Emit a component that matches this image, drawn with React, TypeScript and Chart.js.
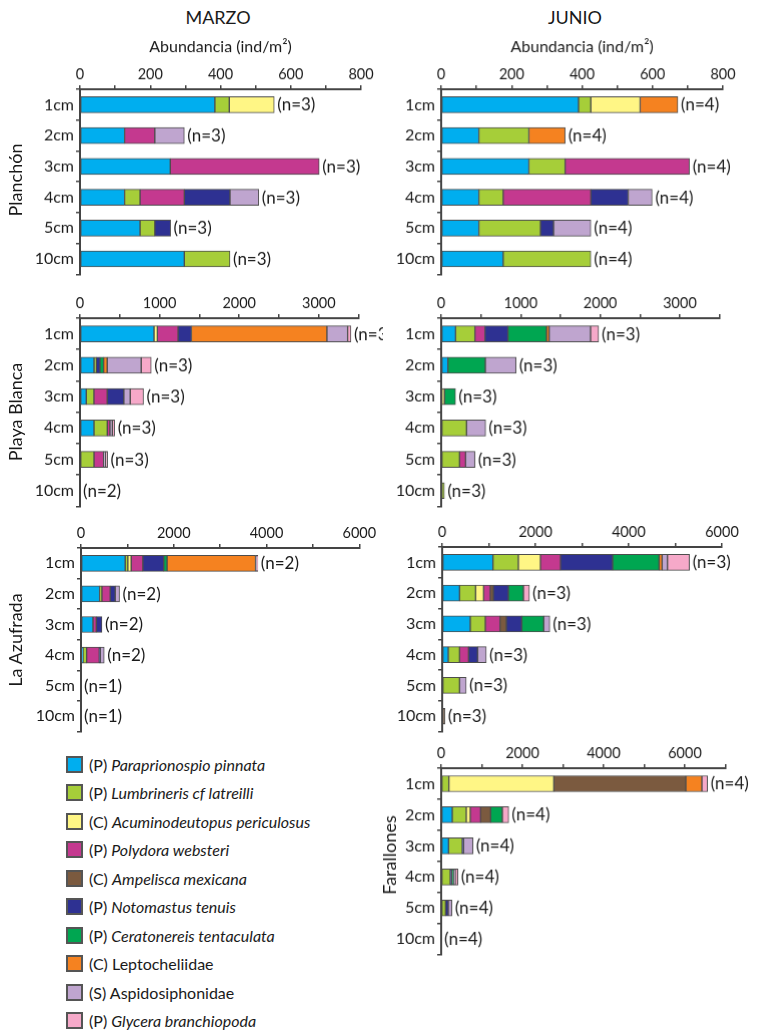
import React, { useEffect, useRef } from "react";
import { Chart, registerables } from "chart.js";

Chart.register(...registerables);

const FONT = "Lato, 'Open Sans', sans-serif";

// categories
const depths = ["1cm", "2cm", "3cm", "4cm", "5cm", "10cm"];

// species (legend order)
const speciesPrefix = ["(P)", "(P)", "(C)", "(P)", "(C)", "(P)", "(P)", "(C)", "(S)", "(P)"];
const speciesName = [
  "Paraprionospio pinnata",
  "Lumbrineris cf latreilli",
  "Acuminodeutopus periculosus",
  "Polydora websteri",
  "Ampelisca mexicana",
  "Notomastus tenuis",
  "Ceratonereis tentaculata",
  "Leptocheliidae",
  "Aspidosiphonidae",
  "Glycera branchiopoda",
];
const speciesItalic = [true, true, true, true, true, true, true, false, false, true];
const speciesColor = [
  "#00AEEF",
  "#A6CE39",
  "#FFF685",
  "#C4398F",
  "#7B5A3F",
  "#2E3192",
  "#00A651",
  "#F58220",
  "#BFA5CF",
  "#F6A9C9",
];

// values: rows = depths (1cm..10cm), columns = species (legend order)
const marzoPlanchon = [
  [384, 41, 128, 0, 0, 0, 0, 0, 0, 0],
  [127, 0, 0, 86, 0, 0, 0, 0, 84, 0],
  [257, 0, 0, 424, 0, 0, 0, 0, 0, 0],
  [127, 44, 0, 126, 0, 130, 0, 0, 82, 0],
  [171, 42, 0, 0, 0, 45, 0, 0, 0, 0],
  [297, 130, 0, 0, 0, 0, 0, 0, 0, 0],
];
const junioPlanchon = [
  [390, 35, 140, 0, 0, 0, 0, 107, 0, 0],
  [107, 142, 0, 0, 0, 0, 0, 103, 0, 0],
  [249, 103, 0, 353, 0, 0, 0, 0, 0, 0],
  [107, 69, 0, 249, 0, 106, 0, 0, 68, 0],
  [107, 175, 0, 0, 0, 37, 0, 0, 106, 0],
  [176, 249, 0, 0, 0, 0, 0, 0, 0, 0],
];
const marzoPlayaBlanca = [
  [930, 0, 42, 260, 0, 168, 0, 1702, 260, 42],
  [176, 29, 0, 0, 0, 46, 46, 45, 427, 126],
  [79, 96, 0, 167, 0, 209, 0, 0, 80, 167],
  [176, 167, 0, 33, 0, 0, 0, 0, 30, 29],
  [0, 176, 0, 121, 0, 0, 0, 0, 25, 25],
  [0, 0, 0, 0, 0, 0, 0, 0, 0, 0],
];
const junioPlayaBlanca = [
  [181, 243, 0, 126, 0, 290, 484, 33, 521, 101],
  [84, 0, 0, 0, 0, 0, 471, 0, 386, 0],
  [0, 0, 40, 0, 0, 0, 140, 0, 0, 0],
  [0, 319, 0, 0, 0, 0, 0, 0, 240, 0],
  [0, 231, 0, 76, 0, 0, 0, 0, 117, 0],
  [0, 40, 0, 0, 0, 0, 0, 0, 0, 0],
];
const marzoAzufrada = [
  [953, 57, 72, 251, 0, 451, 72, 1907, 30, 20],
  [401, 50, 0, 179, 0, 108, 0, 0, 93, 0],
  [258, 0, 0, 72, 0, 122, 0, 0, 0, 0],
  [43, 79, 0, 272, 0, 21, 0, 0, 86, 0],
  [0, 0, 0, 0, 0, 0, 0, 0, 0, 0],
  [0, 0, 0, 0, 0, 0, 0, 0, 0, 0],
];
const junioAzufrada = [
  [1090, 544, 474, 430, 0, 1118, 996, 65, 115, 473],
  [373, 344, 172, 143, 65, 323, 322, 0, 0, 129],
  [602, 323, 0, 316, 135, 329, 474, 0, 129, 0],
  [129, 244, 0, 193, 0, 194, 0, 0, 186, 0],
  [0, 373, 0, 0, 0, 0, 0, 0, 143, 0],
  [0, 0, 0, 0, 60, 0, 0, 0, 0, 0],
];
const junioFarallones = [
  [0, 189, 2585, 0, 3251, 0, 0, 395, 0, 140],
  [272, 345, 99, 255, 247, 0, 288, 0, 0, 157],
  [181, 338, 0, 0, 0, 32, 0, 0, 231, 0],
  [0, 222, 0, 0, 0, 33, 50, 0, 41, 66],
  [0, 107, 0, 0, 0, 66, 0, 0, 90, 0],
  [0, 0, 0, 0, 0, 0, 0, 0, 0, 0],
];

// sample sizes per depth
const nMarzoPlanchon = [3, 3, 3, 3, 3, 3];
const nJunioPlanchon = [4, 4, 4, 4, 4, 4];
const nMarzoPlayaBlanca = [3, 3, 3, 3, 3, 2];
const nJunioPlayaBlanca = [3, 3, 3, 3, 3, 3];
const nMarzoAzufrada = [2, 2, 2, 2, 1, 1];
const nJunioAzufrada = [3, 3, 3, 3, 3, 3];
const nJunioFarallones = [4, 4, 4, 4, 4, 4];

type PanelProps = {
  rows: number[][];
  ns: number[];
  max: number;
  step: number;
  labelEvery: number;
  plotLeft: number;
  plotTop: number;
  plotRight: number;
  plotBottom: number;
  canvasRight: number;
  axisTitle?: string;
};

const YW = 70;

function Panel(p: PanelProps) {
  const ref = useRef<HTMLCanvasElement | null>(null);
  const XH = p.axisTitle ? 60 : 30;
  const padBottom = 12;
  const left = p.plotLeft - YW;
  const top = p.plotTop - XH;
  const width = p.canvasRight - left;
  const height = XH + (p.plotBottom - p.plotTop) + padBottom;

  useEffect(() => {
    if (!ref.current) return;
    const totals = p.rows.map((r) => r.reduce((a, b) => a + b, 0));
    const datasets = speciesName.map((name, si) => ({
      label: name,
      data: p.rows.map((r) => (r[si] > 0 ? r[si] : null)),
      backgroundColor: speciesColor[si],
      borderColor: "#4d4d4d",
      borderWidth: 1,
      borderSkipped: false as const,
      barThickness: 16,
      stack: "s",
    }));
    const nPlugin = {
      id: "nlabels",
      afterDatasetsDraw(chart: any) {
        const { ctx, scales } = chart;
        const xs = scales.x;
        const ys = scales.y;
        ctx.save();
        ctx.font = `17px ${FONT}`;
        ctx.fillStyle = "#1a1a1a";
        ctx.textAlign = "left";
        ctx.textBaseline = "middle";
        totals.forEach((t: number, i: number) => {
          const x = xs.getPixelForValue(t) + 3;
          const y = ys.getPixelForValue(i);
          ctx.fillText(`(n=${p.ns[i]})`, x, y + 0.5);
        });
        ctx.restore();
      },
    };
    const chart = new Chart(ref.current, {
      type: "bar",
      data: { labels: depths, datasets },
      options: {
        indexAxis: "y",
        animation: false,
        responsive: true,
        maintainAspectRatio: false,
        layout: { padding: { left: 0, top: 0, right: p.canvasRight - p.plotRight, bottom: padBottom } },
        plugins: { legend: { display: false }, tooltip: { enabled: false } },
        scales: {
          x: {
            position: "top",
            stacked: true,
            min: 0,
            max: p.max,
            afterFit: (s: any) => {
              s.height = XH;
            },
            ticks: {
              stepSize: p.step,
              autoSkip: false,
              maxRotation: 0,
              padding: 2,
              color: "#1a1a1a",
              font: { family: FONT, size: 14.5 },
              callback: (v: any) => (Number(v) % p.labelEvery === 0 ? String(v) : ""),
            },
            grid: { drawOnChartArea: false, drawTicks: true, tickLength: 4, color: "#444", lineWidth: 1.5 },
            border: { display: true, color: "#444", width: 2 },
            title: {
              display: !!p.axisTitle,
              text: p.axisTitle || "",
              color: "#1a1a1a",
              font: { family: FONT, size: 16 },
              padding: { top: 8, bottom: 0 },
            },
          },
          y: {
            stacked: true,
            afterFit: (s: any) => {
              s.width = YW;
            },
            ticks: { color: "#1a1a1a", font: { family: FONT, size: 16 }, padding: 2 },
            grid: { drawOnChartArea: false, drawTicks: true, tickLength: 4, color: "#444", lineWidth: 1.5 },
            border: { display: true, color: "#444", width: 2 },
          },
        },
      },
      plugins: [nPlugin],
    });
    return () => chart.destroy();
  }, []);

  return (
    <div style={{ position: "absolute", left, top, width, height }}>
      <canvas ref={ref} />
    </div>
  );
}

function RotLabel({ text, cx, cy }: { text: string; cx: number; cy: number }) {
  return (
    <div
      style={{
        position: "absolute",
        left: cx,
        top: cy,
        transform: "translate(-50%, -50%) rotate(-90deg)",
        whiteSpace: "nowrap",
        fontSize: 18,
        color: "#1a1a1a",
      }}
    >
      {text}
    </div>
  );
}

export default function App() {
  return (
    <div
      style={{
        position: "absolute",
        left: 0,
        top: 0,
        width: 767,
        height: 1036,
        background: "#fff",
        fontFamily: FONT,
        overflow: "hidden",
      }}
    >
      <div style={{ position: "absolute", left: 218, top: 17, transform: "translate(-50%, -50%)", fontSize: 18, color: "#1a1a1a" }}>MARZO</div>
      <div style={{ position: "absolute", left: 575, top: 17, transform: "translate(-50%, -50%)", fontSize: 18, color: "#1a1a1a" }}>JUNIO</div>

      <Panel rows={marzoPlanchon} ns={nMarzoPlanchon} max={800} step={100} labelEvery={200}
        plotLeft={80} plotTop={89.3} plotRight={361} plotBottom={273.7} canvasRight={383} axisTitle="Abundancia (ind/m²)" />
      <Panel rows={junioPlanchon} ns={nJunioPlanchon} max={800} step={100} labelEvery={200}
        plotLeft={441.3} plotTop={89.3} plotRight={722.3} plotBottom={273.7} canvasRight={767} axisTitle="Abundancia (ind/m²)" />

      <Panel rows={marzoPlayaBlanca} ns={nMarzoPlayaBlanca} max={3500} step={500} labelEvery={1000}
        plotLeft={80} plotTop={318.3} plotRight={358.6} plotBottom={505.7} canvasRight={383} />
      <Panel rows={junioPlayaBlanca} ns={nJunioPlayaBlanca} max={3500} step={500} labelEvery={1000}
        plotLeft={441.3} plotTop={318.3} plotRight={719} plotBottom={505.7} canvasRight={767} />

      <Panel rows={marzoAzufrada} ns={nMarzoAzufrada} max={6000} step={1000} labelEvery={2000}
        plotLeft={81} plotTop={547.7} plotRight={359.3} plotBottom={731.3} canvasRight={383} />
      <Panel rows={junioAzufrada} ns={nJunioAzufrada} max={6000} step={1000} labelEvery={2000}
        plotLeft={442.3} plotTop={546.7} plotRight={721.3} plotBottom={731.3} canvasRight={767} />

      <Panel rows={junioFarallones} ns={nJunioFarallones} max={7000} step={1000} labelEvery={2000}
        plotLeft={441.3} plotTop={768.3} plotRight={724.8} plotBottom={954} canvasRight={767} />

      <RotLabel text="Planchón" cx={15} cy={180} />
      <RotLabel text="Playa Blanca" cx={15} cy={412} />
      <RotLabel text="La Azufrada" cx={15} cy={640} />
      <RotLabel text="Farallones" cx={389} cy={855} />

      {speciesName.map((name, i) => (
        <div
          key={name}
          style={{
            position: "absolute",
            left: 66,
            top: 764 + i * 28.5 - 9,
            height: 18,
            display: "flex",
            alignItems: "center",
            whiteSpace: "nowrap",
            fontSize: 16,
            color: "#1a1a1a",
          }}
        >
          <span
            style={{
              display: "inline-block",
              width: 13,
              height: 13,
              background: speciesColor[i],
              border: "2px solid #555",
              marginRight: 6,
              flexShrink: 0,
            }}
          />
          <span>
            {speciesPrefix[i]}{" "}
            <span style={{ fontStyle: speciesItalic[i] ? "italic" : "normal" }}>{name}</span>
          </span>
        </div>
      ))}
    </div>
  );
}
